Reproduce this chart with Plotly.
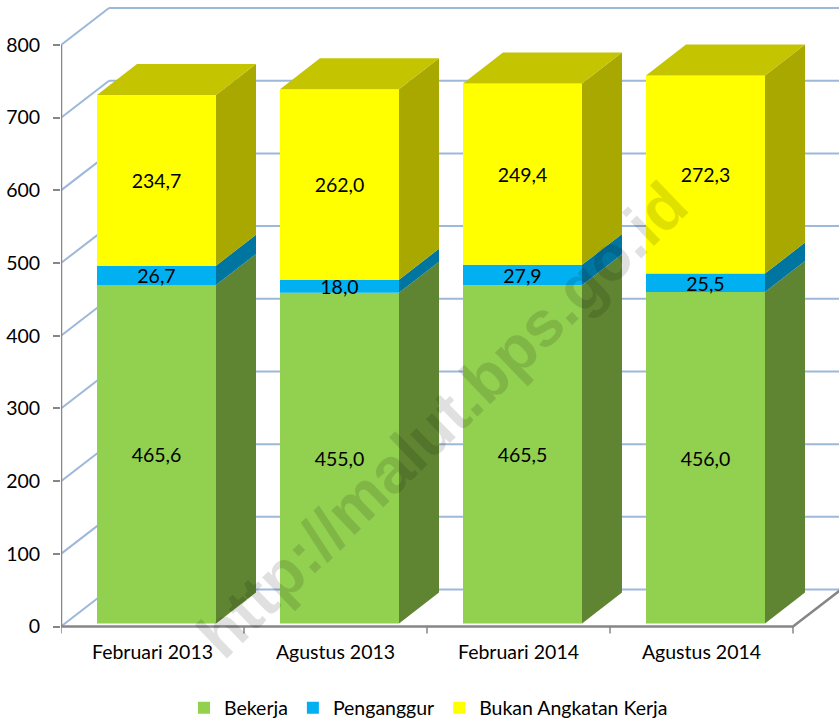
import numpy as np
import plotly.graph_objects as go

categories = ["Februari 2013", "Agustus 2013", "Februari 2014", "Agustus 2014"]
bekerja = [465.6, 455.0, 465.5, 456.0]
penganggur = [26.7, 18.0, 27.9, 25.5]
bukan_ak = [234.7, 262.0, 249.4, 272.3]
series_names = ["Bekerja", "Penganggur", "Bukan Angkatan Kerja"]
y_ticks = [0, 100, 200, 300, 400, 500, 600, 700, 800]

W, H = 839, 721
MARGIN_B = 32
PAPER_H = H - MARGIN_B
L, PLOT_B = 61, 636
ZERO_Y = 627
CAT_PX = 183.0
UNIT_PX = 582 / 800
xmin, xmax = -0.5, -0.5 + (W - L) / CAT_PX
ymin, ymax = -(PLOT_B - ZERO_Y) / UNIT_PX, ZERO_Y / UNIT_PX

WALL_DX, WALL_DY = 48 / CAT_PX, 37 / UNIT_PX
BAR_DX, BAR_DY = 40 / CAT_PX, 31 / UNIT_PX
GAP_DX, GAP_DY = 4 / CAT_PX, 3 / UNIT_PX
BAR_W = 119 / CAT_PX
LABEL_SHIFT = 3 / UNIT_PX

FONT = "Lato, Carlito, Calibri, sans-serif"
FS = 19.5
GRID = "#9DB8D9"
AXIS = "#868686"
front = ["#92D050", "#00B0F0", "#FFFF00"]
side = ["#5F8432", "#00759F", "#A8A800"]
top_col = "#C4C400"

xc = np.arange(len(categories)) + GAP_DX
arrs = [np.array(bekerja), np.array(penganggur), np.array(bukan_ak)]
bases = [np.zeros(4) + GAP_DY]
for a in arrs[:-1]:
    bases.append(bases[-1] + a)

fig = go.Figure()

shapes = []
for v in y_ticks:
    shapes.append(dict(type="line", xref="x", yref="y", layer="below", x0=xmin, y0=v,
                       x1=xmin + WALL_DX, y1=v + WALL_DY, line=dict(color=GRID, width=2)))
    shapes.append(dict(type="line", xref="x", yref="y", layer="below", x0=xmin + WALL_DX, y0=v + WALL_DY,
                       x1=xmax, y1=v + WALL_DY, line=dict(color=GRID, width=2)))

for name, a, b, c in zip(series_names, arrs, bases, front):
    fig.add_trace(go.Bar(x=xc, y=a, base=b, width=BAR_W, name=name,
                         marker=dict(color=c, line=dict(width=0)), hoverinfo="skip"))

xr = xc + BAR_W / 2
xl = xc - BAR_W / 2
for a, b, c in zip(arrs, bases, side):
    for i in range(4):
        fig.add_trace(go.Scatter(
            x=[xr[i], xr[i] + BAR_DX, xr[i] + BAR_DX, xr[i], xr[i]],
            y=[b[i], b[i] + BAR_DY, b[i] + a[i] + BAR_DY, b[i] + a[i], b[i]],
            mode="lines", fill="toself", fillcolor=c, line=dict(width=0),
            showlegend=False, hoverinfo="skip"))

tops = bases[-1] + arrs[-1]
for i in range(4):
    fig.add_trace(go.Scatter(
        x=[xl[i], xl[i] + BAR_DX, xr[i] + BAR_DX, xr[i], xl[i]],
        y=[tops[i], tops[i] + BAR_DY, tops[i] + BAR_DY, tops[i], tops[i]],
        mode="lines", fill="toself", fillcolor=top_col, line=dict(width=0),
        showlegend=False, hoverinfo="skip"))

# axis frame
fr_x = [xmin, xmin, None, xmin, xmin + len(categories), xmin + len(categories) + WALL_DX]
fr_y = [0, 800, None, 0, 0, WALL_DY]
fig.add_trace(go.Scatter(x=fr_x, y=fr_y, mode="lines", line=dict(color=AXIS, width=2.5),
                         showlegend=False, hoverinfo="skip"))
tx, ty = [], []
for k in range(len(categories) + 1):
    tx += [xmin + k, xmin + k, None]
    ty += [0, -7 / UNIT_PX, None]
fig.add_trace(go.Scatter(x=tx, y=ty, mode="lines", line=dict(color=AXIS, width=1.5),
                         showlegend=False, hoverinfo="skip", cliponaxis=False))

# value labels
for a, b in zip(arrs, bases):
    fig.add_trace(go.Scatter(
        x=xc, y=b + a / 2 - LABEL_SHIFT, mode="text",
        text=[f"{v:.1f}".replace(".", ",") for v in a],
        textposition="middle center",
        textfont=dict(family=FONT, size=FS, color="black"),
        showlegend=False, hoverinfo="skip"))

wm_x, wm_y = 442, 420
plot_w = W - L
fig.add_annotation(text="<b>http://malut.bps.go.id</b>", xref="paper", yref="paper",
                   x=(wm_x - L) / plot_w, y=1 - wm_y / PAPER_H, showarrow=False, textangle=-44,
                   font=dict(family="Liberation Sans", size=64, color="rgba(0,0,0,0.12)"))

fig.update_layout(
    width=W, height=H, autosize=False, barmode="overlay",
    margin=dict(l=L, r=0, t=0, b=MARGIN_B, pad=0),
    paper_bgcolor="white", plot_bgcolor="white",
    font=dict(family=FONT, size=FS, color="black"),
    shapes=shapes,
    xaxis=dict(range=[xmin, xmax], tickmode="array", tickvals=list(range(4)), ticktext=categories,
               showgrid=False, zeroline=False, showline=False, ticks="outside", ticklen=0,
               ticklabelstandoff=-1, automargin=False, tickfont=dict(family=FONT, size=FS, color="black")),
    yaxis=dict(range=[ymin, ymax], domain=[1 - PLOT_B / PAPER_H, 1], tickmode="array", tickvals=y_ticks,
               showgrid=False, zeroline=False, automargin=False,
               showline=False, ticks="outside", ticklen=7, tickwidth=2, tickcolor=AXIS, ticklabelstandoff=9,
               tickfont=dict(family=FONT, size=FS, color="black")),
    legend=dict(orientation="h", xanchor="left", yanchor="middle", xref="container", yref="container",
                x=184 / W, y=1 - 708 / H,
                font=dict(family=FONT, size=FS, color="black"), bgcolor="rgba(0,0,0,0)"),
)

fig.write_html("out.html", config={"displayModeBar": False, "responsive": False},
               post_script="document.body.style.margin='0';document.body.style.overflow='hidden';")
